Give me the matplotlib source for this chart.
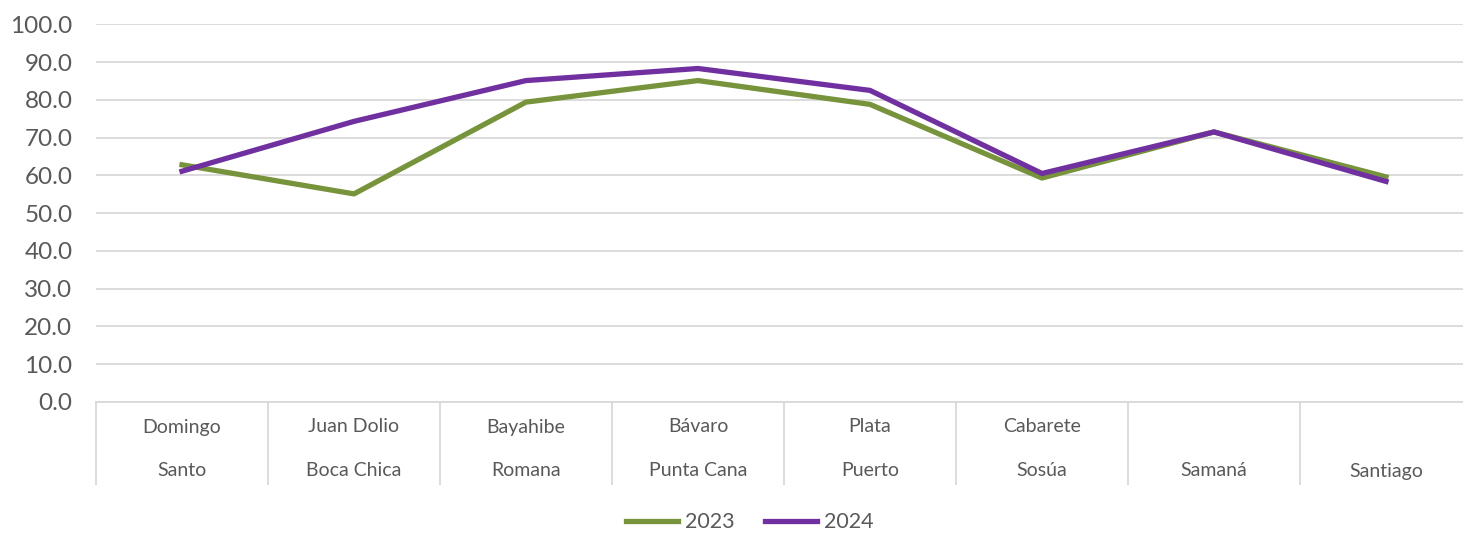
import matplotlib
matplotlib.use("Agg")
import matplotlib.pyplot as plt
import matplotlib.transforms as mtransforms

# data
top_labels = ["Domingo", "Juan Dolio", "Bayahibe", "Bávaro", "Plata", "Cabarete", "", ""]
bottom_labels = ["Santo", "Boca Chica", "Romana", "Punta Cana", "Puerto", "Sosúa", "Samaná", "Santiago"]
vals_2023 = [62.8, 55.1, 79.4, 85.1, 78.8, 59.3, 71.5, 59.6]
vals_2024 = [61.1, 74.3, 85.1, 88.3, 82.5, 60.5, 71.5, 58.4]
yticks = [0, 10, 20, 30, 40, 50, 60, 70, 80, 90, 100]

green = "#77933C"
purple = "#7030A0"
grid_c = "#D9D9D9"
text_c = "#595959"
font = ["Lato", "DejaVu Sans"]

W, H = 1463, 533
fig = plt.figure(figsize=(W / 100, H / 100), dpi=100)
# axes in pixel terms: left 96, bottom line at y=402, top at y=24.3, 172 px per category
ax = fig.add_axes([96 / W, (H - 402) / H, 1376 / W, (402 - 24.3) / H])

x = list(range(len(bottom_labels)))
ax.plot(x, vals_2023, color=green, lw=3.8, label="2023")
ax.plot(x, vals_2024, color=purple, lw=3.8, label="2024")

ax.set_xlim(-0.5, len(x) - 0.5)
ax.set_ylim(0, 100)
ax.set_yticks(yticks)
ax.set_yticklabels([f"{v:.1f}" for v in yticks], family=font, fontsize=17.5, color=text_c)
ax.yaxis.grid(True, color=grid_c, lw=1.3)
ax.set_axisbelow(True)
ax.tick_params(axis="y", length=0, pad=17)

for s in ["top", "right", "left"]:
    ax.spines[s].set_visible(False)
ax.spines["bottom"].set_color(grid_c)
ax.spines["bottom"].set_linewidth(1.3)

# category separators as long minor ticks
ax.set_xticks([i - 0.5 for i in range(len(x) + 1)], minor=True)
ax.set_xticks(x)
ax.set_xticklabels([""] * len(x))
ax.tick_params(axis="x", which="major", length=0)
ax.tick_params(axis="x", which="minor", length=83 * 0.72, color=grid_c, width=1.3, direction="out")

ax_h = 402 - 24.3
trans = mtransforms.blended_transform_factory(ax.transData, ax.transAxes)
for i in x:
    ax.text(i, -(427 - 402) / ax_h, top_labels[i], transform=trans, ha="center", va="center",
            family=font, fontsize=14, color=text_c)
    ax.text(i, -(471 - 402) / ax_h, bottom_labels[i], transform=trans, ha="center", va="center",
            family=font, fontsize=14, color=text_c)

leg = fig.legend(loc="center", bbox_to_anchor=(750 / W, 1 - 522.5 / H), ncol=2, frameon=False,
                 handlelength=2.4, handletextpad=0.35, columnspacing=1.4,
                 prop={"family": font, "size": 15.5})
for t in leg.get_texts():
    t.set_color(text_c)

fig.savefig("out.png", dpi=100)
